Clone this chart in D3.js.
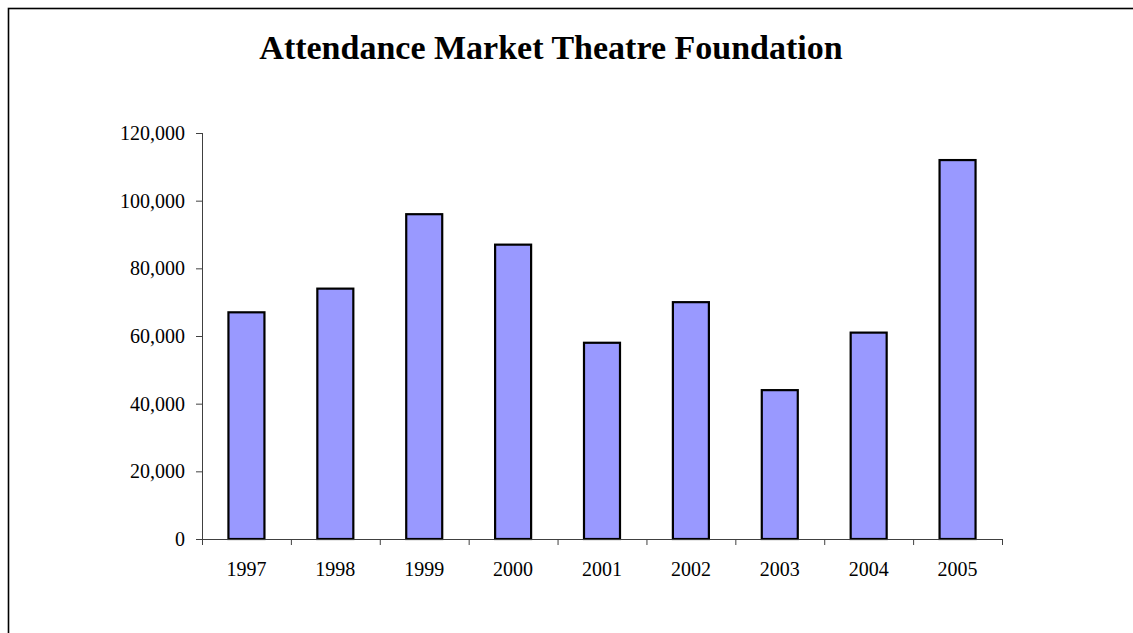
<!DOCTYPE html>
<html>
<head>
<meta charset="utf-8">
<script src="https://cdn.jsdelivr.net/npm/d3@7"></script>
<style>
  body { margin: 0; background: #fff; }
  svg { display: block; }
</style>
</head>
<body>
<div id="chart"></div>
<script>
var years = ["1997", "1998", "1999", "2000", "2001", "2002", "2003", "2004", "2005"];
var attendance = [67000, 74000, 96000, 87000, 58000, 70000, 44000, 61000, 112000];
var yTicks = [0, 20000, 40000, 60000, 80000, 100000, 120000];

var width = 1133;
var height = 633;
var margin = {top: 133, right: 131, bottom: 94, left: 202};
var innerW = width - margin.left - margin.right;
var innerH = height - margin.top - margin.bottom;

var svg = d3.select("#chart").append("svg")
  .attr("width", width)
  .attr("height", height);

// outer frame (runs off the right/bottom of the picture)
svg.append("rect")
  .attr("x", 8.5)
  .attr("y", 8.5)
  .attr("width", 1200)
  .attr("height", 700)
  .style("fill", "none")
  .style("stroke", "#000")
  .style("stroke-width", 1.6);

svg.append("text")
  .attr("x", 551)
  .attr("y", 59)
  .attr("text-anchor", "middle")
  .style("font-family", "'Liberation Serif', 'Times New Roman', serif")
  .style("font-weight", "bold")
  .style("font-size", "34px")
  .text("Attendance Market Theatre Foundation");

var g = svg.append("g")
  .attr("transform", "translate(" + margin.left + "," + margin.top + ")");

var x = d3.scaleBand()
  .domain(years)
  .range([0, innerW])
  .paddingInner(0.595)
  .paddingOuter(0.2975);

var xEdges = d3.scaleLinear().domain([0, years.length]).range([0, innerW]);

var y = d3.scaleLinear().domain([0, 120000]).range([innerH, 0]);

// bars
g.selectAll(".bar")
  .data(attendance)
  .enter().append("rect")
  .attr("class", "bar")
  .attr("x", (d, i) => x(years[i]))
  .attr("y", d => y(d))
  .attr("width", x.bandwidth())
  .attr("height", d => innerH - y(d))
  .style("fill", "#9999FF")
  .style("stroke", "#000")
  .style("stroke-width", 2.2);

// y axis
var yAxis = d3.axisLeft(y)
  .tickValues(yTicks)
  .tickSize(6)
  .tickPadding(11)
  .tickFormat(d3.format(","));

var gy = g.append("g").attr("class", "y-axis").call(yAxis);
gy.select(".domain").attr("d", "M0.5," + innerH + "V0");

// x axis: tick marks at category edges
var gxTicks = g.append("g")
  .attr("class", "x-ticks")
  .attr("transform", "translate(0," + innerH + ")")
  .call(d3.axisBottom(xEdges).ticks(years.length).tickSize(6).tickFormat(""));

// x axis labels
var gx = g.append("g")
  .attr("class", "x-axis")
  .attr("transform", "translate(0," + innerH + ")")
  .call(d3.axisBottom(x).tickSize(0).tickPadding(23));
gx.select(".domain").remove();

svg.selectAll(".y-axis text, .x-axis text")
  .style("font-family", "'Liberation Serif', 'Times New Roman', serif")
  .style("font-size", "20px")
  .style("fill", "#000");

svg.selectAll(".y-axis .domain, .y-axis line, .x-ticks .domain, .x-ticks line")
  .style("stroke", "#404040")
  .style("stroke-width", 1);
</script>
</body>
</html>
